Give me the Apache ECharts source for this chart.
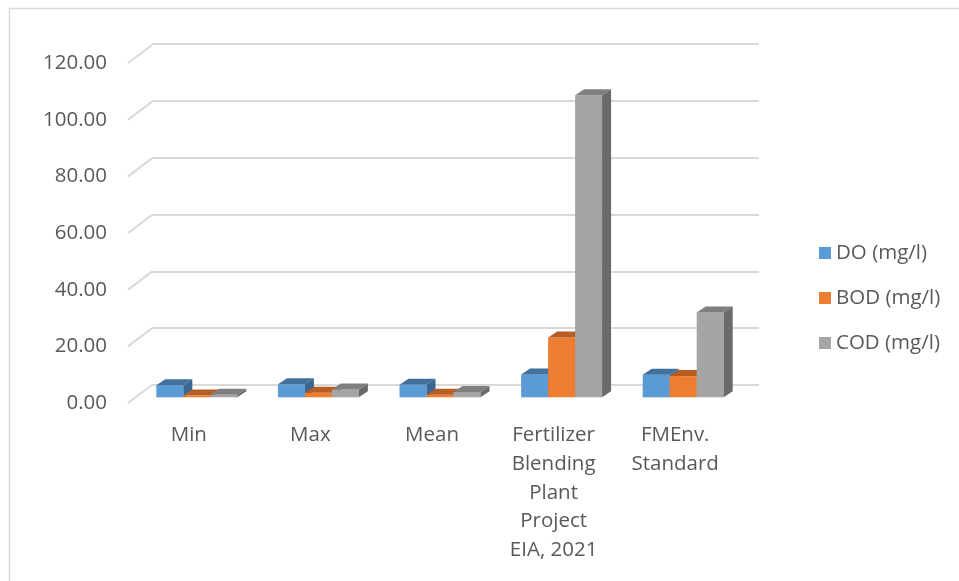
<!DOCTYPE html>
<html>
<head>
<meta charset="utf-8">
<script src="https://cdn.jsdelivr.net/npm/echarts@6/dist/echarts.min.js"></script>
<style>
  html, body { margin: 0; padding: 0; background: #ffffff; }
  #chart { width: 959px; height: 581px; }
</style>
</head>
<body>
<div id="chart"></div>
<script>
// Water quality parameters, in mg/l
const categories = ['Min', 'Max', 'Mean', 'Fertilizer\nBlending\nPlant\nProject\nEIA, 2021', 'FMEnv.\nStandard'];
const seriesNames = ['DO (mg/l)', 'BOD (mg/l)', 'COD (mg/l)'];
const doValues  = [4.3, 4.6, 4.4, 8.1, 8.0];
const bodValues = [0.6, 1.6, 0.9, 21.1, 7.5];
const codValues = [0.9, 2.8, 1.9, 106.7, 30.0];
const yTicks = [0, 20, 40, 60, 80, 100, 120];

// Face colours for each series: front, top, side
const faceColors = [
  { front: '#5b9bd5', top: '#41719c', side: '#3a6792' },
  { front: '#ed7d31', top: '#b55d22', side: '#ad5a20' },
  { front: '#a5a5a5', top: '#7f7f7f', side: '#6a6a6a' }
];

const TEXT = '#595959';
const GRID_LINE = '#d9d9d9';
const FONT = 'Open Sans';
const FONT_SIZE = 20.5;
const DEPTH_X = 9, DEPTH_Y = -6;     // bar depth offset
const BAR_RATIO = 0.222;             // bar width relative to category band
const WALL_DX = 24, WALL_DY = -18;   // front axis plane to back wall

const yMin = yTicks[0], yMax = yTicks[yTicks.length - 1], yStep = yTicks[1] - yTicks[0];

function barRenderer(k) {
  const c = faceColors[k];
  return function (params, api) {
    const idx = api.value(0), val = api.value(1);
    const base = api.coord([idx, 0]);
    const top = api.coord([idx, val]);
    const band = api.size([1, 0])[0];
    const w = band * BAR_RATIO;
    const x0 = base[0] - 1.5 * w + k * w, x1 = x0 + w;
    const yb = base[1], yt = top[1];
    return {
      type: 'group',
      children: [
        { type: 'polygon', shape: { points: [[x0, yt], [x1, yt], [x1, yb], [x0, yb]] },
          style: { fill: c.front } },
        { type: 'polygon', shape: { points: [[x0, yt], [x1, yt], [x1 + DEPTH_X, yt + DEPTH_Y], [x0 + DEPTH_X, yt + DEPTH_Y]] },
          style: { fill: c.top } },
        { type: 'polygon', shape: { points: [[x1, yt], [x1 + DEPTH_X, yt + DEPTH_Y], [x1 + DEPTH_X, yb + DEPTH_Y], [x1, yb]] },
          style: { fill: c.side } }
      ]
    };
  };
}

const seriesValues = [doValues, bodValues, codValues];

const chart = echarts.init(document.getElementById('chart'), null, { renderer: 'canvas' });

const option = {
  backgroundColor: '#ffffff',
  animation: false,
  color: faceColors.map(c => c.front),
  textStyle: { fontFamily: FONT },
  graphic: [{
    type: 'rect', silent: true,
    shape: { x: 9.5, y: 8.5, width: 1000, height: 1000 },
    style: { fill: 'none', stroke: GRID_LINE, lineWidth: 1.5 }
  }],
  legend: {
    orient: 'vertical',
    left: 814, top: 236,
    itemWidth: 12, itemHeight: 12, itemGap: 21,
    icon: 'rect',
    data: seriesNames,
    textStyle: { color: TEXT, fontSize: FONT_SIZE, fontFamily: FONT, lineHeight: 24, padding: [0, 0, 0, 0] }
  },
  grid: [
    // front plane: axis labels
    { left: 128, top: 63, width: 608, height: 340 },
    // back wall: gridlines
    { left: 152, top: 44, width: 607, height: 341 },
    // bar plane
    { left: 136, top: 57.7, width: 608, height: 339.6 }
  ],
  xAxis: [
    { type: 'category', gridIndex: 0, data: categories,
      axisLine: { show: false }, axisTick: { show: false },
      axisLabel: { interval: 0, margin: 18, color: TEXT, fontSize: FONT_SIZE, fontFamily: FONT, lineHeight: 28.7 } },
    { type: 'category', gridIndex: 1, data: categories, show: false },
    { type: 'category', gridIndex: 2, data: categories, show: false }
  ],
  yAxis: [
    { type: 'value', gridIndex: 0, min: yMin, max: yMax, interval: yStep,
      axisLine: { show: false }, axisTick: { show: false }, splitLine: { show: false },
      axisLabel: { margin: 21, color: TEXT, fontSize: FONT_SIZE, fontFamily: FONT,
        formatter: v => v.toFixed(2) } },
    { type: 'value', gridIndex: 1, min: yMin, max: yMax, interval: yStep,
      axisLine: { show: false }, axisTick: { show: false }, axisLabel: { show: false },
      splitLine: { show: true, lineStyle: { color: GRID_LINE, width: 2 } } },
    { type: 'value', gridIndex: 2, min: yMin, max: yMax, interval: yStep, show: false }
  ],
  series: [
    // side-wall connectors from the axis plane to each back gridline
    {
      type: 'custom', name: 'wall', xAxisIndex: 0, yAxisIndex: 0, silent: true, z: 1,
      data: yTicks.map(v => [0, v]),
      encode: { x: 0, y: 1 },
      renderItem: function (params, api) {
        const y = api.coord([0, api.value(1)])[1];
        const x = params.coordSys.x;
        return { type: 'line', shape: { x1: x, y1: y, x2: x + WALL_DX, y2: y + WALL_DY },
          style: { stroke: GRID_LINE, lineWidth: 2 } };
      }
    }
  ].concat(seriesNames.map((name, k) => ({
    type: 'custom', name: name, xAxisIndex: 2, yAxisIndex: 2, z: 3 + k,
    itemStyle: { color: faceColors[k].front },
    data: seriesValues[k].map((v, i) => [i, v]),
    encode: { x: 0, y: 1 },
    renderItem: barRenderer(k)
  })))
};

chart.setOption(option);
</script>
</body>
</html>
